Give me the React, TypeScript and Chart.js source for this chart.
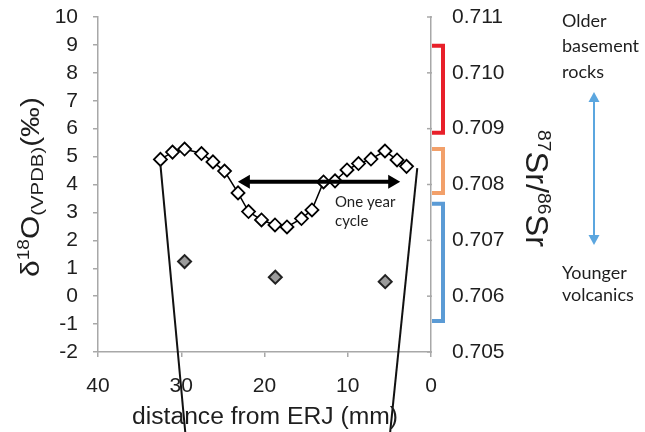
import React, { useEffect, useRef } from 'react';
import { Chart, registerables } from 'chart.js';

Chart.register(...registerables);

// δ18O profile (left axis), distance from ERJ in mm
const distances = [32.5, 31.05, 29.6, 27.57, 26.19, 24.8, 23.18, 21.92, 20.36, 18.74, 17.3, 15.56, 14.3, 12.91, 11.53, 10.09, 8.71, 7.21, 5.53, 4.08, 2.94];
const d18O = [4.9, 5.16, 5.27, 5.11, 4.81, 4.48, 3.7, 3.03, 2.73, 2.55, 2.48, 2.78, 3.09, 4.09, 4.13, 4.52, 4.75, 4.91, 5.2, 4.88, 4.65];

// 87Sr/86Sr (right axis)
const srDistances = [29.6, 18.7, 5.5];
const srRatios = [0.70662, 0.70634, 0.70626];

// axis ticks
const xTicks = [0, 10, 20, 30, 40];
const d18OTicks = [-2, -1, 0, 1, 2, 3, 4, 5, 6, 7, 8, 9, 10];
const srTicks = [0.705, 0.706, 0.707, 0.708, 0.709, 0.71, 0.711];

// source ranges on the Sr axis (low, high)
const rangeLows = [0.70889, 0.70781, 0.70552];
const rangeHighs = [0.71052, 0.70867, 0.70769];
const rangeColors = ['#e8202a', '#f2a06a', '#5b9bd5'];

// one-year cycle arrow (distance from, distance to, δ18O level)
const cycleArrow = [23.2, 3.7, 4.1];

// cone lines: [x0, y0, x1, y1] in (distance, δ18O)
const coneLeft = [32.5, 4.7, 29.48, -5];
const coneRight = [1.65, 4.59, 4.95, -5];

const TEXT = '#1e1e1e';
const AXIS = '#a8a8a8';
const SANS = '"Liberation Sans", Arial, sans-serif';
const CAL = 'Lato, "Open Sans", sans-serif';

function drawSegments(ctx: CanvasRenderingContext2D, segs: any[], targetLen: number) {
  let w = 0;
  for (const s of segs) {
    ctx.font = `${s.size}px ${SANS}`;
    s.w = ctx.measureText(s.t).width;
    w += s.w;
  }
  const sx = targetLen / w;
  ctx.scale(sx, 1);
  let x = -w / 2;
  ctx.textBaseline = 'alphabetic';
  ctx.textAlign = 'left';
  for (const s of segs) {
    ctx.font = `${s.size}px ${SANS}`;
    ctx.fillText(s.t, x, s.dy);
    x += s.w;
  }
}

function arrowHead(ctx: CanvasRenderingContext2D, tx: number, ty: number, dx: number, dy: number, len: number, half: number) {
  const bx = tx - dx * len;
  const by = ty - dy * len;
  ctx.beginPath();
  ctx.moveTo(tx, ty);
  ctx.lineTo(bx - dy * half, by + dx * half);
  ctx.lineTo(bx + dy * half, by - dx * half);
  ctx.closePath();
  ctx.fill();
}

const annotations = {
  id: 'annotations',
  afterDatasetsDraw(chart: any) {
    const ctx: CanvasRenderingContext2D = chart.ctx;
    const xs = chart.scales.x;
    const ys = chart.scales.y;
    const y2 = chart.scales.y2;
    const area = chart.chartArea;
    ctx.save();

    // cone lines
    ctx.strokeStyle = '#111';
    ctx.lineWidth = 2;
    for (const c of [coneLeft, coneRight]) {
      ctx.beginPath();
      ctx.moveTo(xs.getPixelForValue(c[0]), ys.getPixelForValue(c[1]));
      ctx.lineTo(xs.getPixelForValue(c[2]), ys.getPixelForValue(c[3]));
      ctx.stroke();
    }

    // one-year double arrow
    const ax0 = xs.getPixelForValue(cycleArrow[0]);
    const ax1 = xs.getPixelForValue(cycleArrow[1]);
    const ay = ys.getPixelForValue(cycleArrow[2]);
    ctx.fillStyle = '#000';
    ctx.strokeStyle = '#000';
    ctx.lineWidth = 4;
    ctx.beginPath();
    ctx.moveTo(ax0 + 8, ay);
    ctx.lineTo(ax1 - 8, ay);
    ctx.stroke();
    arrowHead(ctx, ax0, ay, -1, 0, 12, 7);
    arrowHead(ctx, ax1, ay, 1, 0, 12, 7);

    ctx.font = `15px ${CAL}`;
    ctx.fillStyle = TEXT;
    ctx.textAlign = 'left';
    ctx.textBaseline = 'middle';
    ctx.fillText('One year', 335, 202);
    ctx.fillText('cycle', 335, 221);

    // right axis inner ticks
    ctx.strokeStyle = AXIS;
    ctx.lineWidth = 1.5;
    for (const t of srTicks) {
      const py = y2.getPixelForValue(t);
      ctx.beginPath();
      ctx.moveTo(area.right - 4, py);
      ctx.lineTo(area.right + 1, py);
      ctx.stroke();
    }

    // range brackets
    ctx.lineWidth = 4;
    ctx.lineJoin = 'miter';
    for (let i = 0; i < rangeLows.length; i++) {
      const top = y2.getPixelForValue(rangeHighs[i]);
      const bot = y2.getPixelForValue(rangeLows[i]);
      const xv = area.right + 12;
      ctx.strokeStyle = rangeColors[i];
      ctx.beginPath();
      ctx.moveTo(area.right + 1, top + 2);
      ctx.lineTo(xv, top + 2);
      ctx.lineTo(xv, bot - 2);
      ctx.lineTo(area.right + 1, bot - 2);
      ctx.stroke();
    }

    // right side texts
    ctx.fillStyle = TEXT;
    ctx.font = `18px ${CAL}`;
    ctx.textAlign = 'left';
    ctx.textBaseline = 'middle';
    ctx.fillText('Older', 562, 21);
    ctx.fillText('basement', 562, 46);
    ctx.fillText('rocks', 562, 72);
    ctx.fillText('Younger', 562, 273);
    ctx.fillText('volcanics', 562, 295);

    // blue double arrow
    ctx.strokeStyle = '#5ba6df';
    ctx.fillStyle = '#5ba6df';
    ctx.lineWidth = 2;
    ctx.beginPath();
    ctx.moveTo(594, 100);
    ctx.lineTo(594, 237);
    ctx.stroke();
    arrowHead(ctx, 594, 92, 0, -1, 10, 5.5);
    arrowHead(ctx, 594, 245, 0, 1, 10, 5.5);

    // axis titles
    ctx.fillStyle = TEXT;
    // left
    ctx.save();
    ctx.translate(38.5, 187);
    ctx.rotate(-Math.PI / 2);
    drawSegments(ctx, [
      { t: 'δ', size: 25, dy: 0 },
      { t: '18', size: 16, dy: -10 },
      { t: 'O', size: 25, dy: 0 },
      { t: '(VPDB)', size: 17, dy: 4.5 },
      { t: '(‰)', size: 25, dy: 0 },
    ], 180);
    ctx.restore();
    // right
    ctx.save();
    ctx.translate(526, 188.5);
    ctx.rotate(Math.PI / 2);
    drawSegments(ctx, [
      { t: '87', size: 19, dy: -12 },
      { t: 'Sr/', size: 32, dy: 0 },
      { t: '86', size: 19, dy: -12 },
      { t: 'Sr', size: 32, dy: 0 },
    ], 117);
    ctx.restore();
    // bottom
    ctx.save();
    ctx.translate(265, 424);
    drawSegments(ctx, [{ t: 'distance from ERJ (mm)', size: 23, dy: 0 }], 266);
    ctx.restore();

    ctx.restore();
  },
};

export default function App() {
  const ref = useRef<HTMLCanvasElement | null>(null);

  useEffect(() => {
    if (!ref.current) return;
    const tickFont = { family: SANS, size: 21 };
    const noPadV = (s: any) => { s.paddingTop = 0; s.paddingBottom = 0; };
    const chart = new Chart(ref.current, {
      type: 'line',
      data: {
        datasets: [
          {
            label: 'δ18O',
            data: distances.map((d, i) => ({ x: d, y: d18O[i] })),
            yAxisID: 'y',
            borderColor: '#000',
            borderWidth: 1.5,
            pointStyle: 'rectRot',
            pointRadius: 6.5,
            pointBackgroundColor: '#fff',
            pointBorderColor: '#000',
            pointBorderWidth: 1.8,
            tension: 0,
          },
          {
            label: '87Sr/86Sr',
            data: srDistances.map((d, i) => ({ x: d, y: srRatios[i] })),
            yAxisID: 'y2',
            showLine: false,
            pointStyle: 'rectRot',
            pointRadius: 6.5,
            pointBackgroundColor: '#9b9b9b',
            pointBorderColor: '#222',
            pointBorderWidth: 2,
          },
        ],
      },
      options: {
        responsive: false,
        animation: false,
        layout: { padding: { top: 17, left: 0, right: 0, bottom: 0 } },
        plugins: { legend: { display: false }, tooltip: { enabled: false } },
        scales: {
          x: {
            type: 'linear',
            reverse: true,
            min: 0,
            max: 40,
            afterBuildTicks: (s: any) => { s.ticks = xTicks.map((v) => ({ value: v })); },
            afterFit: (s: any) => { s.height = 80; s.paddingLeft = 0; s.paddingRight = 0; },
            grid: { drawOnChartArea: false, tickLength: 5, color: AXIS, lineWidth: 1.5 },
            border: { color: AXIS, width: 1.5 },
            ticks: { font: tickFont, color: TEXT, padding: 17, maxRotation: 0, autoSkip: false },
          },
          y: {
            type: 'linear',
            position: 'left',
            min: -2,
            max: 10,
            afterBuildTicks: (s: any) => { s.ticks = d18OTicks.map((v) => ({ value: v })); },
            afterFit: (s: any) => { s.width = 98; noPadV(s); },
            grid: { drawOnChartArea: false, tickLength: 5, color: AXIS, lineWidth: 1.5 },
            border: { color: AXIS, width: 1.5 },
            ticks: { font: tickFont, color: TEXT, padding: 15, autoSkip: false },
          },
          y2: {
            type: 'linear',
            position: 'right',
            min: 0.705,
            max: 0.711,
            afterBuildTicks: (s: any) => { s.ticks = srTicks.map((v) => ({ value: v })); },
            afterFit: (s: any) => { s.width = 214; noPadV(s); },
            grid: { drawOnChartArea: false, drawTicks: false, color: AXIS },
            border: { color: AXIS, width: 1.5 },
            ticks: {
              font: tickFont,
              color: TEXT,
              padding: 21,
              autoSkip: false,
              callback: (v: any) => Number(v).toFixed(3),
            },
          },
        },
      },
      plugins: [annotations],
    } as any);
    return () => chart.destroy();
  }, []);

  return (
    <div style={{ position: 'fixed', left: 0, top: 0, width: 645, height: 432, background: '#fff' }}>
      <canvas ref={ref} width={645} height={432} style={{ display: 'block' }} />
    </div>
  );
}
